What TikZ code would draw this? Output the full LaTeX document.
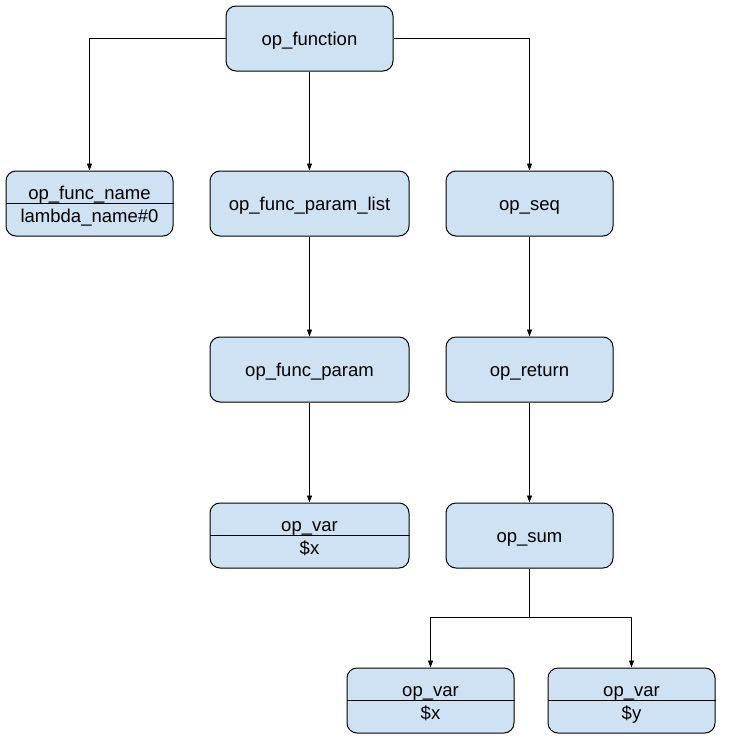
\documentclass[tikz,border=0pt]{standalone}
\usepackage{fontspec}
\setmainfont{Liberation Sans}
\usetikzlibrary{arrows.meta}

\definecolor{nodeblue}{HTML}{CFE2F3}
\tikzset{
  box/.style={draw, line width=1pt, rounded corners=10pt, fill=nodeblue,
    minimum width=167pt, minimum height=65pt, inner sep=0pt,
    text height=15pt, text depth=2pt,
    font=\fontsize{18.5}{22}\selectfont},
  widebox/.style={box, minimum width=199pt},
  lbl/.style={inner sep=0pt, anchor=base, font=\fontsize{18.5}{22}\selectfont},
  arr/.style={line width=0.9pt, -{Triangle[length=7pt,width=5pt]}}
}

\begin{document}
\begin{tikzpicture}[x=1pt,y=-1pt]
  \useasboundingbox (0,0) rectangle (729,744);

  % plain boxes
  \node[box] (func) at (309.5,38.5) {op\_function};
  \node[widebox] (plist) at (309.5,203.5) {op\_func\_param\_list};
  \node[box] (seq) at (529.5,203.5) {op\_seq};
  \node[widebox] (fparam) at (309.5,369.5) {op\_func\_param};
  \node[box] (ret) at (529.5,369.5) {op\_return};
  \node[box] (sum) at (529.5,535.5) {op\_sum};

  % boxes with two parts
  \node[box] (fname) at (89.5,203.5) {};
  \node[widebox] (varx) at (309.5,535.5) {};
  \node[box] (varxb) at (430.5,700.5) {};
  \node[box] (vary) at (631.5,700.5) {};
  \foreach \n/\top/\bot in {fname/op\_func\_name/lambda\_name\#0,
      varx/op\_var/\$x, varxb/op\_var/\$x, vary/op\_var/\$y} {
    \draw[line width=1pt] (\n.west) -- (\n.east);
    \node[lbl] (\n-top) at ([yshift=4.5pt]\n.center) {\top};
    \node[lbl] (\n-bot) at ([yshift=-18.5pt]\n.center) {\bot};
  }

  % connectors
  \draw[arr] (func.west) -| (fname.north);
  \draw[arr] (func.south) -- (plist.north);
  \draw[arr] (func.east) -| (seq.north);
  \draw[arr] (plist.south) -- (fparam.north);
  \draw[arr] (fparam.south) -- (varx.north);
  \draw[arr] (seq.south) -- (ret.north);
  \draw[arr] (ret.south) -- (sum.north);
  \coordinate (fork) at (529.5,617.5);
  \draw[line width=0.9pt] (sum.south) -- (fork);
  \draw[arr] (fork) -| (varxb.north);
  \draw[arr] (fork) -| (vary.north);
\end{tikzpicture}
\end{document}
